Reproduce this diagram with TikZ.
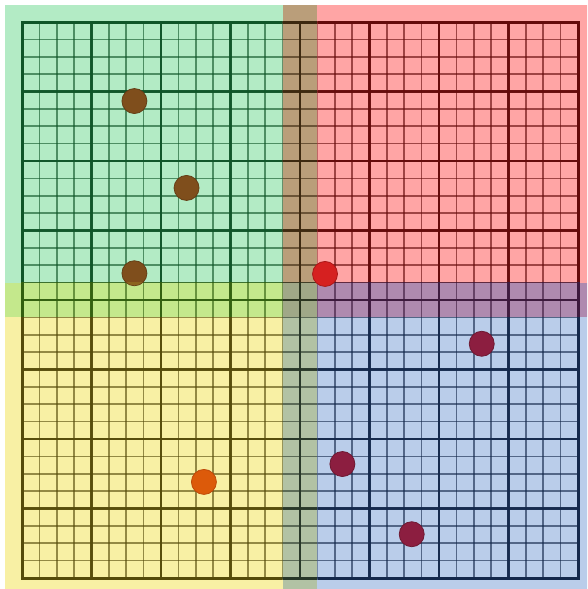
\documentclass[tikz,border=0pt]{standalone}
\usetikzlibrary{calc}
\definecolor{bgG}{RGB}{179,235,197}
\definecolor{lnG}{RGB}{15,85,40}
\definecolor{bgGR}{RGB}{186,158,122}
\definecolor{lnGR}{RGB}{60,40,15}
\definecolor{bgR}{RGB}{255,165,165}
\definecolor{lnR}{RGB}{100,10,10}
\definecolor{bgGY}{RGB}{196,232,140}
\definecolor{lnGY}{RGB}{50,95,15}
\definecolor{bgC}{RGB}{160,168,136}
\definecolor{lnC}{RGB}{40,50,30}
\definecolor{bgRB}{RGB}{175,138,175}
\definecolor{lnRB}{RGB}{60,25,60}
\definecolor{bgY}{RGB}{248,240,164}
\definecolor{lnY}{RGB}{85,75,10}
\definecolor{bgYB}{RGB}{178,194,164}
\definecolor{lnYB}{RGB}{40,55,40}
\definecolor{bgB}{RGB}{186,205,234}
\definecolor{lnB}{RGB}{20,40,75}
\definecolor{dotBrown}{RGB}{127,78,28}
\definecolor{dotBrownEdge}{RGB}{100,62,22}
\definecolor{dotBrownLow}{RGB}{140,100,30}
\definecolor{dotRed}{RGB}{214,32,32}
\definecolor{dotRedEdge}{RGB}{170,25,25}
\definecolor{dotMaroon}{RGB}{140,30,64}
\definecolor{dotMaroonEdge}{RGB}{110,25,50}
\definecolor{dotOrange}{RGB}{220,90,10}
\definecolor{dotOrangeEdge}{RGB}{190,75,10}
\tikzset{
  minorline/.style={line width=1.7pt, opacity=0.62},
  majorline/.style={line width=2.2pt, opacity=0.95},
  borderline/.style={line width=3pt},
  dotnode/.style={circle, minimum size=25pt, inner sep=0pt, line width=0.8pt},
}
\newcommand\gridpart[6]{%
  \fill[#5] (#1,#2) rectangle (#3,#4);
  \begin{scope}
    \clip (#1,#2) rectangle (#3,#4);
    \foreach \i in {0,...,32} {
      \draw[minorline, draw=#6] (\i,0) -- (\i,32);
      \draw[minorline, draw=#6] (0,\i) -- (32,\i);
    }
    \foreach \i in {4,8,...,28} {
      \draw[majorline, draw=#6] (\i,0) -- (\i,32);
      \draw[majorline, draw=#6] (0,\i) -- (32,\i);
    }
    \draw[borderline, draw=#6] (0,0) rectangle (32,32);
  \end{scope}}
\begin{document}
\begin{tikzpicture}[x=17.375pt, y=-17.375pt]
\useasboundingbox (-1.2662,-1.2662) rectangle (32.518,32.633);
\fill[white] (-1.2662,-1.2662) rectangle (32.518,32.633);
\begin{scope}
\clip (-1.2662,-1.2662) rectangle (32.518,32.633);
\gridpart{-1}{-1}{15}{15}{bgG}{lnG}
\gridpart{15}{-1}{17}{15}{bgGR}{lnGR}
\gridpart{17}{-1}{33}{15}{bgR}{lnR}
\gridpart{-1}{15}{15}{17}{bgGY}{lnGY}
\gridpart{15}{15}{17}{17}{bgC}{lnC}
\gridpart{17}{15}{33}{17}{bgRB}{lnRB}
\gridpart{-1}{17}{15}{33}{bgY}{lnY}
\gridpart{15}{17}{17}{33}{bgYB}{lnYB}
\gridpart{17}{17}{33}{33}{bgB}{lnB}
\end{scope}
% dots
\node[dotnode, fill=dotBrown, draw=dotBrownEdge] (d1) at (6.47,4.55) {};
\node[dotnode, fill=dotBrown, draw=dotBrownEdge] (d2) at (9.47,9.55) {};
\node[dotnode, fill=dotBrown, draw=dotBrownEdge] (d3) at (6.47,14.46) {};
\begin{scope}
  \clip (-1,15) rectangle (15,17);
  \fill[dotBrownLow] (d3.center) circle[radius=12.1pt];
\end{scope}
\node[dotnode, fill=dotRed, draw=dotRedEdge] (d4) at (17.44,14.5) {};
\node[dotnode, fill=dotMaroon, draw=dotMaroonEdge] (d5) at (26.46,18.52) {};
\node[dotnode, fill=dotMaroon, draw=dotMaroonEdge] (d6) at (18.44,25.44) {};
\node[dotnode, fill=dotMaroon, draw=dotMaroonEdge] (d7) at (22.43,29.48) {};
\node[dotnode, fill=dotOrange, draw=dotOrangeEdge] (d8) at (10.47,26.47) {};
\end{tikzpicture}
\end{document}
